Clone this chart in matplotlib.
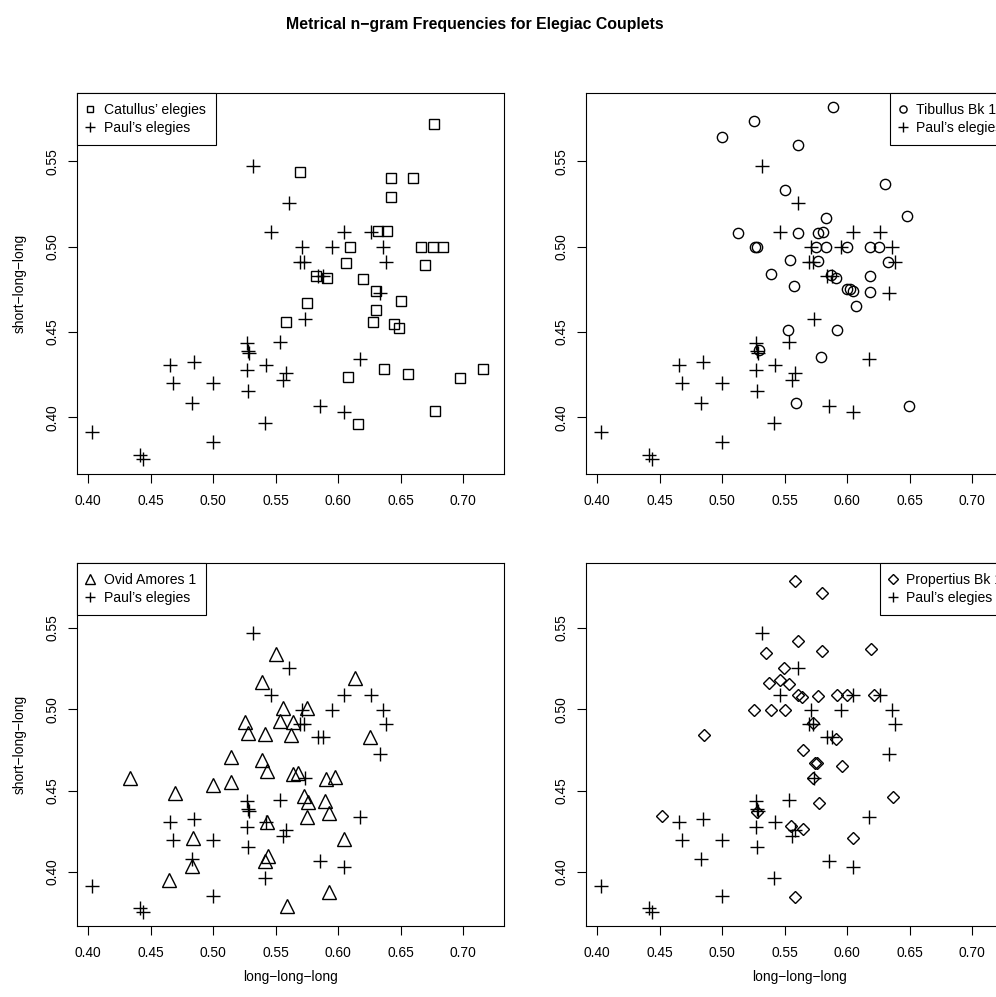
import matplotlib
matplotlib.use("Agg")
import matplotlib.pyplot as plt

plt.rcParams["font.family"] = ["Liberation Sans", "DejaVu Sans"]

# Paul's elegies, drawn in every panel
paul_x = [0.403, 0.4415, 0.444, 0.4655, 0.4675, 0.4845, 0.4827, 0.500, 0.500, 0.5316,
          0.5607, 0.5462, 0.5710, 0.5692, 0.5727, 0.5947, 0.6044, 0.6262, 0.6360, 0.6385,
          0.5840, 0.5880, 0.6330, 0.5731, 0.5268, 0.5281, 0.5287, 0.5535, 0.5422, 0.5268,
          0.5585, 0.5556, 0.5281, 0.6170, 0.5855, 0.6048, 0.5414]
paul_y = [0.3915, 0.378, 0.3755, 0.4305, 0.4200, 0.4326, 0.4083, 0.4200, 0.3854, 0.5472,
          0.5254, 0.5087, 0.4999, 0.4912, 0.4912, 0.4997, 0.5087, 0.5087, 0.4998, 0.4907,
          0.4828, 0.4828, 0.4727, 0.4576, 0.4438, 0.4389, 0.4378, 0.4443, 0.4305, 0.4280,
          0.4260, 0.4220, 0.4153, 0.4340, 0.4068, 0.4029, 0.3966]

cat_x = [0.6762, 0.5695, 0.6423, 0.6597, 0.6423, 0.6317, 0.6389, 0.6095, 0.6663, 0.6757,
         0.6837, 0.6060, 0.6695, 0.5823, 0.5908, 0.6194, 0.6303, 0.6503, 0.5748, 0.6303,
         0.5580, 0.6274, 0.6442, 0.6487, 0.6362, 0.6074, 0.6557, 0.6976, 0.7155, 0.6770,
         0.6161]
cat_y = [0.5715, 0.5438, 0.5399, 0.5399, 0.5291, 0.5092, 0.5092, 0.4998, 0.4998, 0.4998,
         0.4998, 0.4905, 0.4895, 0.4827, 0.4819, 0.4813, 0.4739, 0.4680, 0.4667, 0.4628,
         0.4559, 0.4559, 0.4544, 0.4526, 0.4286, 0.4237, 0.4257, 0.4231, 0.4286, 0.4036,
         0.3960]

tib_x = [0.5889, 0.5256, 0.4998, 0.5604, 0.6301, 0.5498, 0.6474, 0.5828, 0.5128, 0.5604,
         0.5764, 0.5809, 0.5264, 0.5277, 0.5748, 0.5830, 0.5995, 0.6181, 0.6251, 0.6328,
         0.5538, 0.5769, 0.5391, 0.5870, 0.5910, 0.6181, 0.5570, 0.5995, 0.6022, 0.6043,
         0.6181, 0.6067, 0.5524, 0.5915, 0.5290, 0.5788, 0.5586, 0.6495]
tib_y = [0.5818, 0.5736, 0.5642, 0.5592, 0.5369, 0.5330, 0.5178, 0.5170, 0.5080, 0.5082,
         0.5080, 0.5086, 0.4998, 0.4998, 0.4998, 0.4998, 0.4998, 0.4998, 0.4998, 0.4907,
         0.4920, 0.4916, 0.4838, 0.4833, 0.4819, 0.4827, 0.4768, 0.4754, 0.4749, 0.4739,
         0.4735, 0.4653, 0.4514, 0.4514, 0.4393, 0.4354, 0.4087, 0.4066]

ovid_x = [0.5503, 0.5393, 0.6135, 0.5556, 0.5751, 0.5254, 0.5535, 0.5641, 0.5281, 0.5414,
          0.5623, 0.6250, 0.5142, 0.5388, 0.5428, 0.4334, 0.5641, 0.5676, 0.5903, 0.5975,
          0.4694, 0.4995, 0.5142, 0.5729, 0.5761, 0.5895, 0.5922, 0.5748, 0.5428, 0.4835,
          0.6047, 0.5436, 0.5414, 0.4827, 0.4649, 0.5922, 0.5588]
ovid_y = [0.5340, 0.5167, 0.5191, 0.5007, 0.5011, 0.4925, 0.4931, 0.4925, 0.4853, 0.4849,
          0.4843, 0.4828, 0.4706, 0.4689, 0.4624, 0.4577, 0.4601, 0.4607, 0.4570, 0.4583,
          0.4484, 0.4536, 0.4552, 0.4468, 0.4429, 0.4437, 0.4362, 0.4341, 0.4310, 0.4212,
          0.4202, 0.4100, 0.4069, 0.4038, 0.3952, 0.3880, 0.3794]

prop_x = [0.5583, 0.5796, 0.5604, 0.6189, 0.5349, 0.5796, 0.5490, 0.5370, 0.5463, 0.5530,
          0.5604, 0.5641, 0.5764, 0.5921, 0.5995, 0.6216, 0.5250, 0.5391, 0.5503, 0.5729,
          0.4857, 0.5910, 0.5649, 0.5740, 0.5756, 0.5955, 0.5729, 0.6362, 0.5774, 0.5277,
          0.4519, 0.5551, 0.5644, 0.6043, 0.5578]
prop_y = [0.5791, 0.5713, 0.5422, 0.5369, 0.5344, 0.5359, 0.5252, 0.5164, 0.5181, 0.5156,
          0.5088, 0.5078, 0.5082, 0.5088, 0.5088, 0.5088, 0.4996, 0.4996, 0.4996, 0.4914,
          0.4843, 0.4818, 0.4751, 0.4673, 0.4673, 0.4654, 0.4577, 0.4464, 0.4423, 0.4372,
          0.4345, 0.4286, 0.4263, 0.4212, 0.3846]

x_ticks = [0.40, 0.45, 0.50, 0.55, 0.60, 0.65, 0.70]
y_ticks = [0.40, 0.45, 0.50, 0.55]

W, H = 996, 997
fig = plt.figure(figsize=(W / 100, H / 100), dpi=100)


def px_axes(l, t, r, b):
    return fig.add_axes([l / W, 1 - b / H, (r - l) / W, (b - t) / H])


panels = [
    # box in pixels, series, marker, size, label, legend loc, xlabel, ylabel
    ((77, 92.7, 504, 474.3), cat_x, cat_y, "s", 7.0, "Catullus\u2019 elegies", "upper left", False, True),
    ((586, 92.7, 1013, 474.3), tib_x, tib_y, "o", 7.4, "Tibullus Bk 1", "upper right", False, False),
    ((77, 562.7, 504, 926.3), ovid_x, ovid_y, "^", 9.6, "Ovid Amores 1", "upper left", True, True),
    ((586, 562.7, 1013, 926.3), prop_x, prop_y, "D", 6.6, "Propertius Bk 1", "upper right", True, False),
]

for box, xs, ys, mk, ms, lab, loc, show_xl, show_yl in panels:
    ax = px_axes(*box)
    ax.plot(xs, ys, linestyle="none", marker=mk, markersize=ms, markerfacecolor="none",
            markeredgecolor="black", markeredgewidth=1.0, label=lab)
    ax.plot(paul_x, paul_y, linestyle="none", marker="+", markersize=10,
            markeredgecolor="black", markeredgewidth=1.0, label="Paul\u2019s elegies")
    ax.set_xlim(0.391, 0.7325)
    ax.set_ylim(0.3667, 0.5901)
    ax.set_xticks(x_ticks)
    ax.set_yticks(y_ticks)
    ax.set_xticklabels([f"{v:.2f}" for v in x_ticks])
    ax.set_yticklabels([f"{v:.2f}" for v in y_ticks], rotation=90, va="center")
    ax.tick_params(direction="out", length=6.8, width=0.8, labelsize=9.9, color="black")
    ax.tick_params(axis="x", pad=7.5)
    ax.tick_params(axis="y", pad=5.5)
    for s in ax.spines.values():
        s.set_linewidth(0.8)
    if show_xl:
        ax.set_xlabel("long\u2212long\u2212long", fontsize=9.9, labelpad=7)
    if show_yl:
        ax.set_ylabel("short\u2212long\u2212long", fontsize=9.9, labelpad=14)
    leg = ax.legend(loc=loc, borderaxespad=0, fancybox=False, framealpha=1,
                    edgecolor="black", fontsize=10.1, markerscale=0.7,
                    handlelength=0.4, handletextpad=0.75, borderpad=0.75,
                    labelspacing=0.24)
    leg.get_frame().set_linewidth(0.8)

fig.text(474.7 / W, 1 - 24 / H, "Metrical n\u2212gram Frequencies for Elegiac Couplets",
         ha="center", va="center", fontsize=11.4, fontweight="bold")

fig.savefig("out.png", dpi=100)
